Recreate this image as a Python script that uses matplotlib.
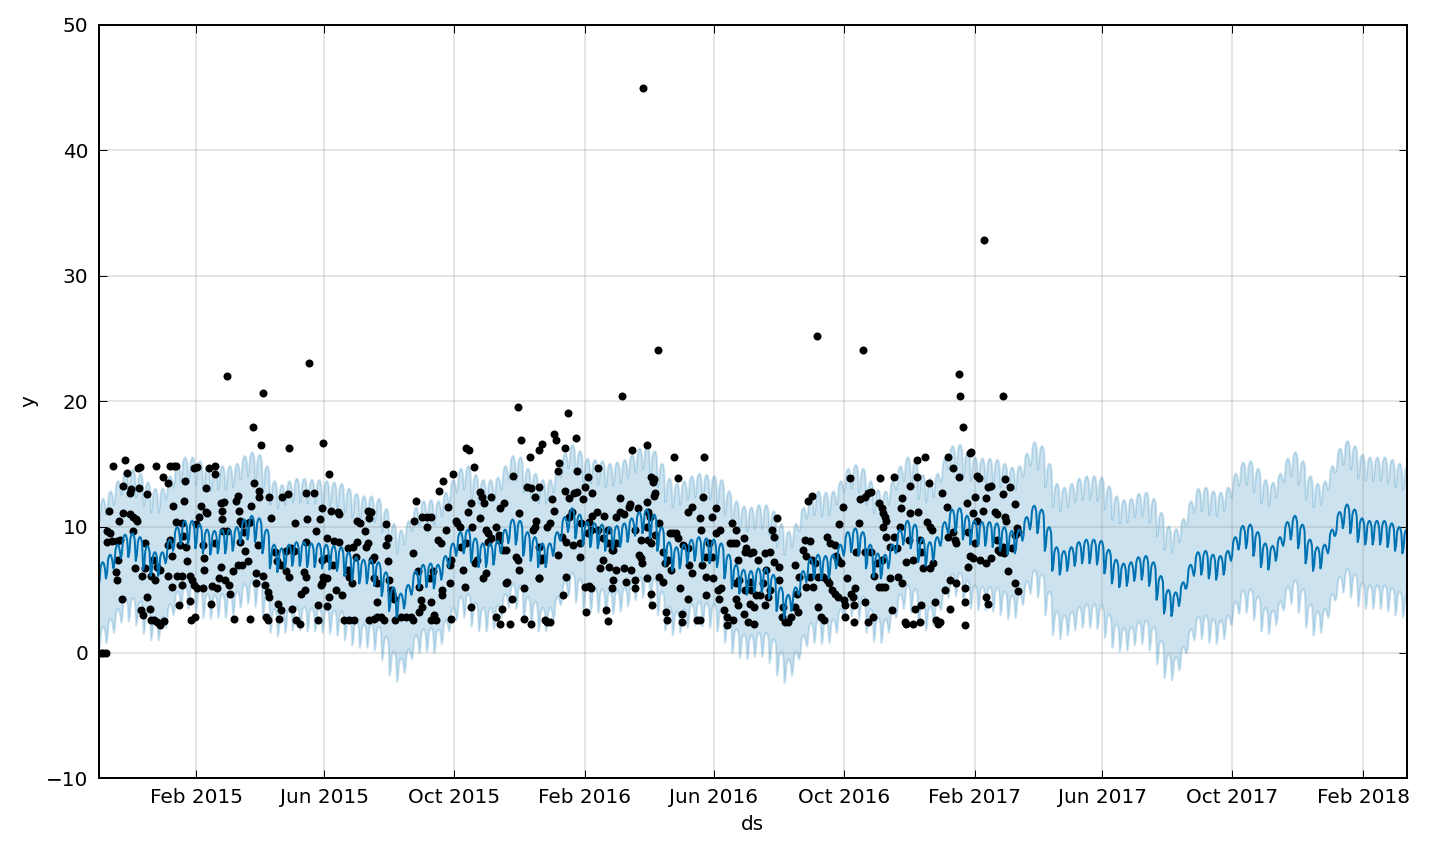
import numpy as np
import pandas as pd
import matplotlib
matplotlib.use("Agg")
import matplotlib.pyplot as plt
import matplotlib.dates as mdates

start = "2014-11-01"
n_days = 1230  # history (to 2017-03-14) + 365 day forecast

# forecast level, one value per week (week starts on day 7*k)
weekly_level = [
    7.0, 7.6, 8.4, 9.2, 9.3, 9.0, 8.3, 7.8, 7.8, 8.8,
    9.8, 10.3, 10.3, 10.0, 9.6, 9.5, 9.6, 9.6, 9.8, 10.4,
    10.7, 10.5, 9.6, 8.4, 8.1, 8.4, 8.6, 8.6, 8.5, 8.5,
    8.4, 8.3, 8.2, 7.8, 7.4, 7.2, 7.2, 7.0, 6.2, 5.0,
    4.5, 5.2, 6.3, 6.8, 6.9, 6.8, 7.5, 8.5, 9.4, 9.6,
    8.9, 8.5, 8.5, 8.7, 9.6, 10.4, 10.3, 9.4, 9.0, 8.5,
    8.5, 9.4, 10.6, 11.3, 10.8, 10.2, 10.1, 10.0, 9.8, 9.9,
    10.1, 10.5, 11.0, 11.2, 10.8, 9.8, 8.6, 8.2, 8.4, 8.8,
    9.0, 8.9, 8.8, 8.5, 7.6, 6.8, 6.4, 6.3, 6.5, 6.5,
    6.0, 5.0, 4.4, 5.0, 6.3, 7.3, 7.6, 7.5, 7.6, 8.4,
    9.4, 9.7, 9.4, 8.4, 7.7, 7.6, 8.4, 9.6, 10.3, 10.0,
    8.9, 8.6, 9.0, 10.2, 11.2, 11.3, 10.7, 10.3, 10.2, 10.2,
    10.1, 9.8, 9.5, 9.6, 10.6, 11.5, 11.2, 9.8, 8.2, 7.9,
    8.2, 8.6, 8.8, 8.8, 8.7, 8.0, 7.2, 6.9, 7.0, 7.4,
    7.5, 7.0, 5.9, 4.8, 4.6, 5.4, 6.8, 7.8, 7.9, 7.6,
    7.5, 7.9, 9.0, 9.9, 10.0, 9.4, 8.5, 8.3, 9.0, 10.2,
    10.7, 10.0, 8.8, 8.2, 8.4, 9.6, 11.0, 11.6, 11.2, 10.5,
    10.3, 10.3, 10.3, 10.1, 9.8, 9.6,
]
# day-of-week effect, Monday..Sunday
weekday_effect = [-0.2, 0.1, 0.2, 0.1, -0.3, -1.7, -1.3]
band_half = 5.1

# observations: day offset from start, value
obs_day = [
    2, 4, 7, 121, 155, 198, 145, 153, 179, 211,
    10, 14, 25, 27, 37, 39, 23, 30, 31, 38, 46, 23, 30, 32, 35, 36, 19, 8, 11, 8,
    13, 17, 20, 32, 44, 18, 16, 17, 22, 34, 41, 44, 51, 55, 58, 49, 53, 46, 40, 42,
    48, 49, 52, 55, 58, 62,
    54, 61, 65, 67, 71, 73, 70, 80, 81, 65, 67, 69, 65, 69, 76, 74, 78, 78, 77, 73,
    78, 79, 83, 86, 88, 90, 93, 98, 86, 87, 91, 90, 93, 82, 92, 94, 96, 101, 102, 101,
    98, 99, 99, 104, 109, 109, 106, 107, 111, 109, 115, 118, 116, 116, 117, 115, 113, 119, 123, 121,
    124, 126, 127, 129, 131, 132, 133, 135, 133, 137, 140, 142, 143, 138, 140, 131, 135, 142, 146, 151,
    148, 148, 150, 151, 155, 156, 159, 160, 157, 159, 160, 162, 166, 168, 171, 169, 171, 170, 172, 178,
    176, 179, 176, 181, 184, 182, 185, 186, 189, 190, 194, 193, 195, 195, 202, 195, 196, 204, 206, 206,
    209, 211, 210, 208, 210,
    217, 218, 225, 226, 215, 221, 226, 215, 220, 210, 215, 217, 215, 231, 235, 240, 223, 229, 234, 239,
    243, 234, 235, 238, 242, 243, 246, 250, 251, 253, 253, 256, 254, 257, 259, 259, 262, 262, 254, 259,
    262, 265, 268, 270, 272, 270, 272, 273, 275, 276, 278, 279, 284, 289, 294, 295, 295, 296, 298, 300,
    301, 303, 304, 301, 304, 309, 312, 309, 311, 314, 312, 315, 317, 312, 320, 324, 319, 322, 323, 323,
    326, 328, 330, 331, 330, 331, 333, 336, 337, 340, 342, 344, 341, 345, 345, 348, 347, 350, 351, 350,
    353, 354, 356, 358, 358, 360, 362, 364, 366, 361, 364, 366, 369, 369, 373, 376, 376, 373, 377, 379,
    377, 381, 380, 383, 383, 384, 387, 388, 389, 392, 394, 395, 395, 394, 397, 400, 400, 406, 403, 406,
    410, 405, 414, 417, 408, 411, 410, 414, 414, 416, 414, 419,
    512, 526, 492, 441, 428, 430, 438, 449, 501, 515, 541, 569, 544, 432, 433, 450, 460, 469, 519, 521,
    522, 426, 428, 438, 442, 447, 450, 457, 455, 464, 424, 421, 442, 445, 435, 439, 446, 452, 453, 461,
    464, 468, 475, 460, 463, 469, 474, 479, 479, 483, 486, 486, 490, 494, 498, 490, 499, 507, 515, 522,
    523, 516, 518, 515, 504, 510, 516, 519, 523, 527, 432, 452, 474, 482, 471, 480, 486, 494, 500, 508,
    511, 510, 417, 414, 439, 457, 461, 463, 483, 496, 504, 515, 482, 504, 436, 519, 520, 477, 479, 458,
    421, 424, 527, 530, 532, 535, 538, 537, 540, 543, 544, 530, 533, 534, 548, 548, 546, 549, 554, 555,
    558, 554, 558, 565, 566, 554, 562, 565, 568, 567, 571, 571, 571, 576, 574, 576, 580, 584, 580, 577,
    582, 583, 585, 588, 590, 595, 599, 593, 596, 599, 606, 608, 607, 601, 612, 615, 620, 599, 602, 607,
    613, 618, 621, 612, 599, 601, 606, 612, 616, 590, 596, 610, 616, 626, 626, 624, 627,
    675, 718, 808, 809, 812, 850, 832,
    637, 633, 635, 631, 635, 639, 639, 631, 629, 642, 645, 648, 651, 643, 654, 657, 656, 654, 658, 664,
    668, 662, 665, 670, 673, 668, 665, 671, 667, 670, 676, 679, 682, 676, 681, 684, 686, 689, 692, 695,
    700, 701, 684, 687, 692, 693, 695, 698, 696, 699, 706, 703, 707, 709, 711, 710, 710, 701, 714, 712,
    715, 720, 723, 726, 720, 726, 720, 723, 728, 729, 733, 736, 739, 745, 731, 736, 734, 733, 736, 737,
    739, 740, 737, 740, 747, 744, 747, 750, 753, 754, 755, 744, 751, 755, 758, 759, 765, 772, 767, 773,
    759, 765, 761, 762, 762, 769, 769, 776, 772, 773, 775, 770, 780, 778, 781, 783, 781, 784, 786, 787,
    789, 791, 792, 797, 795, 800, 800, 798, 803, 808, 798, 803, 805, 806, 806, 814, 814, 814, 816, 819,
    820, 823, 825, 827, 817, 822, 825, 819, 823, 822, 817, 828, 834, 838, 834, 836, 831, 836, 838, 834,
    842, 844, 844, 845, 847,
    852, 856, 850, 861, 852, 853, 863, 864, 861, 850, 851, 858, 854, 861, 864,
]
obs_y = [
    0.0, 0.0, 0.0, 22.0, 20.7, 23.1, 18.0, 16.5, 16.3, 16.7,
    11.3, 14.9, 15.3, 14.3, 14.7, 14.8, 13.3, 12.7, 13.0, 13.1, 12.6, 11.1, 11.0, 10.8, 10.6, 10.5, 10.5, 9.7, 9.5, 8.8,
    8.9, 8.9, 9.0, 9.7, 8.7, 7.4, 6.4, 5.8, 4.3, 6.7, 6.1, 6.7, 7.4, 6.8, 6.6, 6.1, 5.8, 4.4, 3.4, 3.0,
    3.5, 2.6, 2.6, 2.4, 2.2, 2.5,
    14.9, 14.0, 13.5, 14.9, 14.9, 14.9, 11.7, 12.1, 13.7, 8.6, 9.0, 7.7, 6.1, 5.2, 3.8, 6.1, 6.1, 5.4, 8.6, 10.4,
    10.3, 9.3, 7.3, 6.1, 5.8, 5.4, 5.1, 5.1, 4.1, 2.6, 2.8, 14.7, 14.8, 8.4, 10.2, 10.8, 11.7, 11.2, 11.1, 13.1,
    8.6, 7.5, 6.6, 14.7, 14.9, 14.2, 3.9, 5.3, 5.1, 8.7, 11.9, 12.0, 11.3, 10.6, 9.7, 6.8, 5.9, 5.8, 5.4, 9.7,
    4.7, 6.5, 2.7, 12.1, 12.5, 11.3, 10.5, 10.2, 8.8, 9.6, 10.3, 10.4, 11.7, 8.1, 7.3, 7.0, 7.0, 2.7, 13.5, 12.9,
    6.3, 5.5, 8.6, 12.4, 6.1, 5.4, 4.8, 4.4, 2.8, 2.6, 12.4, 10.7, 8.0, 7.3, 7.0, 3.9, 3.4, 2.7, 12.4, 12.6,
    6.5, 6.0, 8.1, 8.3, 8.1, 3.5, 10.3, 2.6, 2.3, 4.7, 5.0, 6.4, 6.0, 12.7, 12.7, 8.8, 10.6, 9.7, 3.8, 2.6,
    5.4, 6.0, 11.5, 10.6, 7.4,
    14.2, 11.3, 11.2, 11.0, 9.1, 8.9, 8.8, 7.5, 7.0, 5.5, 5.9, 4.4, 3.7, 2.6, 2.6, 2.6, 5.0, 4.6, 8.3, 8.4,
    8.8, 6.6, 6.0, 5.5, 7.6, 10.5, 10.3, 9.7, 8.4, 8.7, 11.3, 11.2, 10.7, 7.4, 7.6, 5.9, 5.5, 4.0, 2.6, 2.7,
    2.8, 2.8, 2.6, 10.2, 9.1, 8.6, 7.3, 5.8, 5.0, 4.7, 4.3, 2.6, 2.8, 2.8, 2.8, 2.6, 7.9, 10.5, 12.1, 6.5,
    5.2, 4.2, 3.6, 3.2, 10.8, 10.8, 10.8, 10.0, 5.9, 6.5, 4.0, 3.0, 2.6, 2.6, 12.9, 13.7, 9.0, 8.7, 4.6, 5.0,
    9.8, 11.6, 7.0, 7.4, 5.5, 2.7, 14.2, 10.5, 10.3, 10.0, 6.6, 5.2, 8.4, 8.7, 16.3, 16.1, 11.2, 11.9, 10.0, 3.6,
    14.8, 7.1, 7.4, 12.8, 10.7, 12.4, 11.9, 9.8, 9.5, 5.9, 6.3, 8.8, 9.1, 12.4, 10.0, 9.4, 9.0, 2.8, 2.3, 3.5,
    11.5, 11.9, 8.2, 8.2, 5.5, 5.6, 2.3, 4.3, 14.1, 7.6, 7.4, 6.6, 11.1, 19.6, 16.9, 5.1, 2.7, 2.3, 13.2, 13.1,
    12.4, 15.6, 16.1, 16.6, 9.8, 10.5, 10.0, 13.2, 8.4, 7.4, 5.9, 2.6,
    45.0, 24.1, 20.4, 19.1, 17.4, 16.9, 16.3, 17.1, 16.1, 16.5, 15.6, 15.6, 13.9, 14.5, 15.1, 14.5, 14.0, 14.7, 14.0, 13.6,
    13.8, 12.2, 11.3, 12.9, 12.3, 12.7, 12.8, 13.2, 12.2, 12.7, 10.3, 10.0, 10.8, 11.2, 9.2, 8.8, 8.6, 8.7, 10.3, 10.4,
    10.9, 11.2, 10.9, 9.5, 9.8, 9.8, 9.1, 9.8, 8.7, 8.2, 8.7, 10.8, 11.2, 11.0, 11.6, 12.3, 11.8, 11.5, 12.0, 12.5,
    12.7, 11.2, 10.8, 10.0, 9.8, 9.0, 9.0, 8.7, 9.4, 10.3, 7.8, 7.6, 7.4, 8.2, 6.7, 6.8, 6.6, 6.7, 6.6, 7.8,
    7.1, 7.5, 7.5, 5.9, 6.0, 5.2, 5.3, 5.1, 5.8, 5.6, 5.8, 5.9, 5.1, 5.1, 4.6, 4.7, 3.8, 3.4, 2.5, 3.2,
    2.4, 2.4, 6.0, 5.6, 7.1, 7.4, 6.6, 9.5, 9.5, 9.5, 9.1, 8.0, 3.2, 2.6, 3.1, 2.4, 5.1, 8.6, 8.3, 7.0,
    6.3, 11.2, 11.6, 10.7, 9.8, 4.3, 2.6, 2.6, 12.4, 7.0, 6.0, 4.6, 7.6, 7.6, 8.7, 10.8, 11.5, 9.8, 9.5, 5.9,
    5.0, 4.3, 5.1, 3.4, 2.2, 10.3, 9.8, 8.7, 8.7, 8.7, 9.1, 8.3, 8.0, 7.4, 7.9, 8.0, 7.4, 5.5, 5.8, 5.0,
    5.0, 4.6, 4.6, 5.6, 4.3, 3.8, 3.1, 3.9, 3.6, 2.8, 2.6, 2.4, 2.3, 3.8, 7.9, 5.5, 6.6,
    25.2, 24.1, 22.2, 20.4, 18.0, 20.4, 32.9,
    10.7, 9.8, 9.2, 8.0, 7.2, 6.8, 5.8, 5.0, 4.4, 2.8, 2.4, 2.4, 2.8, 3.6, 3.6, 3.2, 4.7, 7.0, 6.0, 9.0,
    8.9, 8.2, 7.7, 7.4, 7.1, 6.0, 5.2, 5.2, 12.1, 12.5, 3.6, 2.8, 2.6, 6.0, 6.0, 5.8, 5.5, 5.0, 4.7, 4.4,
    4.2, 3.8, 9.2, 8.7, 8.6, 7.7, 7.4, 7.1, 10.2, 11.6, 13.9, 5.9, 4.7, 4.4, 5.1, 3.8, 2.4, 2.8, 10.3, 8.0,
    12.2, 12.4, 12.7, 12.8, 8.0, 8.0, 4.0, 2.4, 2.8, 6.1, 5.2, 5.2, 5.2, 3.4, 7.1, 7.4, 13.9, 11.9, 11.5, 11.1,
    10.8, 10.5, 10.0, 9.2, 14.0, 8.4, 9.2, 8.3, 10.0, 11.5, 12.3, 5.9, 6.0, 5.5, 2.4, 2.3, 2.3, 2.4, 3.5, 3.8,
    7.2, 7.4, 9.0, 11.1, 13.3, 14.0, 15.3, 15.6, 9.0, 8.0, 6.7, 11.2, 13.5, 10.4, 10.0, 9.8, 6.7, 7.1, 4.0, 2.6,
    2.3, 2.4, 12.7, 11.6, 5.0, 5.8, 3.5, 15.6, 14.7, 14.0, 9.2, 9.6, 9.0, 8.7, 5.5, 5.1, 4.0, 2.2, 11.9, 15.9,
    16.0, 12.4, 14.1, 13.9, 9.6, 11.1, 10.5, 7.7, 8.7, 7.5, 6.8, 7.4, 7.1, 7.5, 4.4, 3.9, 11.3, 13.2, 13.3, 12.3,
    11.2, 11.0, 9.0, 8.2, 8.0,
    13.8, 13.2, 12.6, 11.8, 10.8, 10.5, 9.9, 9.6, 9.4, 8.4, 7.9, 8.3, 6.5, 5.5, 4.9,
]

ds = pd.date_range(start, periods=n_days, freq="D")
level = np.array(weekly_level)[np.arange(n_days) // 7]
yhat = level + np.array(weekday_effect)[ds.dayofweek]
obs_ds = pd.Timestamp(start) + pd.to_timedelta(obs_day, unit="D")

fig = plt.figure(figsize=(1456 / 144, 862 / 144), dpi=144, facecolor="w")
ax = fig.add_axes([98.5 / 1456, 1 - 778 / 862, 1308.2 / 1456, 753 / 862])

ax.plot(obs_ds, obs_y, "k.", markersize=6)
ax.plot(ds, yhat, ls="-", c="#0072B2", lw=1)
ax.fill_between(ds, yhat - band_half, yhat + band_half,
                color="#0072B2", alpha=0.2, lw=1)

ax.grid(True, which="major", c="gray", ls="-", lw=1, alpha=0.2)
ax.set_xlim(ds[0], ds[-1])
ax.set_ylim(-10, 50)
ax.set_yticks(range(-10, 51, 10))
ax.xaxis.set_major_locator(mdates.MonthLocator(bymonth=[2, 6, 10]))
ax.xaxis.set_major_formatter(mdates.DateFormatter("%b %Y"))
ax.tick_params(direction="in", top=True, right=True, length=4, width=0.5,
               labelsize=10, pad=5)
for sp in ax.spines.values():
    sp.set_linewidth(1)
ax.set_xlabel("ds", fontsize=10, labelpad=4)
ax.set_ylabel("y", fontsize=10, labelpad=4)

fig.savefig("out.png", dpi=144, facecolor="w")
